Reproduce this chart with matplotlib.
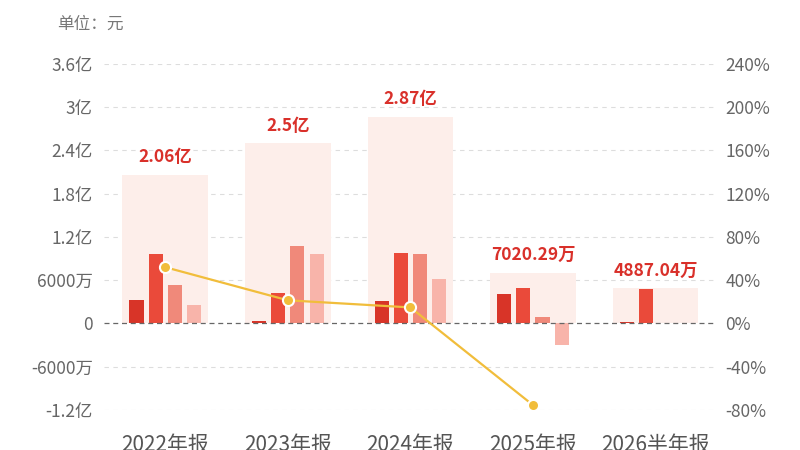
import matplotlib.pyplot as plt
import numpy as np

plt.rcParams['font.family'] = ['Noto Sans CJK SC', 'DejaVu Sans']

categories = ['2022年报', '2023年报', '2024年报', '2025年报', '2026半年报']
totals = [2.06e8, 2.50e8, 2.87e8, 7020.29e4, 4887.04e4]
total_labels = ['2.06亿', '2.5亿', '2.87亿', '7020.29万', '4887.04万']
# single quarter values (Q1..Q4)
q1 = [3.2e7, 0.3e7, 3.15e7, 4.1e7, 0.17e7]
q2 = [9.7e7, 4.2e7, 9.77e7, 4.95e7, 4.72e7]
q3 = [5.3e7, 10.8e7, 9.63e7, 0.9e7, np.nan]
q4 = [2.6e7, 9.7e7, 6.2e7, -2.93e7, np.nan]
growth = [52, 21.4, 14.8, -75.5]  # yoy %, no value for half year

left_ticks = [-1.2e8, -6e7, 0, 6e7, 1.2e8, 1.8e8, 2.4e8, 3e8, 3.6e8]
left_labels = ['-1.2亿', '-6000万', '0', '6000万', '1.2亿', '1.8亿', '2.4亿', '3亿', '3.6亿']
right_ticks = [-80, -40, 0, 40, 80, 120, 160, 200, 240]
right_labels = ['-80%', '-40%', '0%', '40%', '80%', '120%', '160%', '200%', '240%']

q_colors = ['#d83428', '#ea4a3a', '#f0897a', '#f8b4aa']

fig = plt.figure(figsize=(8, 4.5), dpi=100)
ax = fig.add_axes([0.13, 0.089, 0.766, 0.769])
x = np.arange(len(categories))

ax.bar(x, totals, width=0.7, color='#fdeeea', zorder=1)
offsets = [-0.235, -0.078, 0.078, 0.235]
for qv, off, c in zip([q1, q2, q3, q4], offsets, q_colors):
    ax.bar(x + off, qv, width=0.115, color=c, zorder=2)

for xi, t, lab in zip(x, totals, total_labels):
    ax.text(xi, t + 1.2e7, lab, ha='center', va='bottom', color='#d9302a',
            fontsize=12.5, fontweight='bold', zorder=5)

ax.set_xlim(-0.5, 4.5)
ax.set_ylim(-1.2e8, 3.6e8)
ax.set_yticks(left_ticks)
ax.set_yticklabels(left_labels)
ax.set_xticks(x)
ax.set_xticklabels(categories, fontsize=15, color='#555555')
ax.tick_params(axis='x', length=0, pad=17)
ax.tick_params(axis='y', length=0, labelsize=12.5, labelcolor='#666666', pad=8)
for t in left_ticks:
    if t == 0:
        ax.axhline(0, color='#666666', lw=0.9, ls=(0, (4, 3)), zorder=3)
    else:
        ax.axhline(t, color='#dddddd', lw=0.8, ls=(0, (4, 4)), zorder=0)
for s in ax.spines.values():
    s.set_visible(False)

ax2 = ax.twinx()
ax2.set_ylim(-80, 240)
ax2.set_yticks(right_ticks)
ax2.set_yticklabels(right_labels)
ax2.tick_params(axis='y', length=0, labelsize=12.5, labelcolor='#666666', pad=6)
for s in ax2.spines.values():
    s.set_visible(False)
ax2.plot(x[:len(growth)], growth, color='#f1bd3b', lw=1.6, marker='o', markersize=8,
         markerfacecolor='#f1bd3b', markeredgecolor='white', markeredgewidth=1.5, zorder=6)

fig.text(0.072, 0.947, '单位：元', fontsize=12, color='#777777', ha='left', va='center')

fig.savefig('out.png', dpi=100)
